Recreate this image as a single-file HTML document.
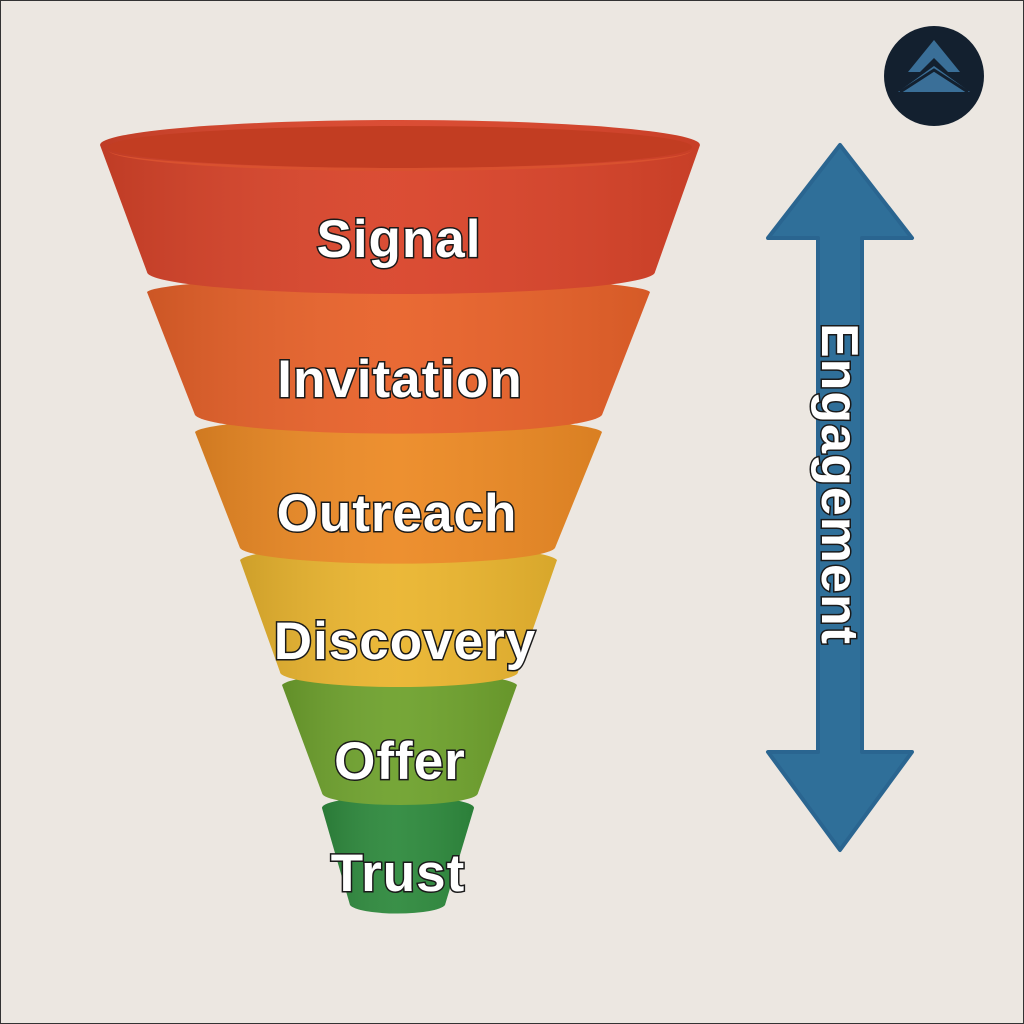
<!DOCTYPE html>
<html><head><style>
html,body{margin:0;padding:0;background:#ece7e1}
svg{display:block}
text{font-family:"Liberation Sans",sans-serif;font-weight:bold;fill:#fff;stroke:#1a1a1a;stroke-width:3px;paint-order:stroke;letter-spacing:1px}
</style></head><body>
<svg width="1024" height="1024" viewBox="0 0 1024 1024">
<defs>
<linearGradient id="sh" x1="0" x2="1" y1="0" y2="0">
<stop offset="0" stop-color="#000" stop-opacity="0.12"/>
<stop offset="0.5" stop-color="#fff" stop-opacity="0.05"/>
<stop offset="1" stop-color="#000" stop-opacity="0.08"/>
</linearGradient>
</defs>
<rect x="0.5" y="0.5" width="1023" height="1023" fill="#ece7e1" stroke="#333" stroke-width="1"/>
<!-- logo -->
<circle cx="934" cy="76" r="50" fill="#13202f"/>
<path d="M934 40 L960 72 L948 72 L934 58 L920 72 L908 72 Z" fill="#3a6f98"/>
<path d="M934 66 L970 92 L898 92 Z" fill="#3a6f98"/>
<path d="M900 92 L934 70 L968 92" fill="none" stroke="#13202f" stroke-width="3"/>
<!-- funnel segments bottom to top -->
<g>
<path d="M322 808 A76 12 0 0 1 474 808 L445 905 A48 10 0 0 1 350 905 Z" fill="#2f8a3e"/>
<path d="M322 808 A76 12 0 0 1 474 808 L445 905 A48 10 0 0 1 350 905 Z" fill="url(#sh)"/>
<path d="M282 685 A118 14 0 0 1 517 685 L478 793 A78 12 0 0 1 322 793 Z" fill="#6fa22e"/>
<path d="M282 685 A118 14 0 0 1 517 685 L478 793 A78 12 0 0 1 322 793 Z" fill="url(#sh)"/>
<path d="M240 560 A159 16 0 0 1 557 560 L518 672 A119 15 0 0 1 280 672 Z" fill="#eab52f"/>
<path d="M240 560 A159 16 0 0 1 557 560 L518 672 A119 15 0 0 1 280 672 Z" fill="url(#sh)"/>
<path d="M195 432 A204 16 0 0 1 602 432 L555 548 A158 17 0 0 1 240 548 Z" fill="#ec8a25"/>
<path d="M195 432 A204 16 0 0 1 602 432 L555 548 A158 17 0 0 1 240 548 Z" fill="url(#sh)"/>
<path d="M147 292 A252 16 0 0 1 650 292 L602 415 A204 20 0 0 1 195 415 Z" fill="#e8622a"/>
<path d="M147 292 A252 16 0 0 1 650 292 L602 415 A204 20 0 0 1 195 415 Z" fill="url(#sh)"/>
<path d="M100 145 A300 25 0 0 1 700 145 L655 272 A254 22 0 0 1 147 272 Z" fill="#d9442a"/>
<path d="M100 145 A300 25 0 0 1 700 145 L655 272 A254 22 0 0 1 147 272 Z" fill="url(#sh)"/>
<ellipse cx="400" cy="147" rx="292" ry="21" fill="#c23d22"/>
<path d="M108 150 A292 21 0 0 0 692 150 A292 18 0 0 1 108 150 Z" fill="#d9512f"/>
</g>
<g font-size="53" text-anchor="middle">
<text x="399" y="257">Signal</text>
<text x="400" y="397">Invitation</text>
<text x="397" y="531">Outreach</text>
<text x="405" y="659">Discovery</text>
<text x="400" y="779">Offer</text>
<text x="398" y="891">Trust</text>
</g>
<!-- arrow -->
<path d="M840 145 L912 238 L862 238 L862 752 L912 752 L840 850 L768 752 L818 752 L818 238 L768 238 Z" fill="#2f6f99" stroke="#2a6590" stroke-width="4" stroke-linejoin="round"/>
<text x="0" y="0" font-size="52" text-anchor="middle" transform="translate(822,484) rotate(90)">Engagement</text>
</svg>
</body></html>
